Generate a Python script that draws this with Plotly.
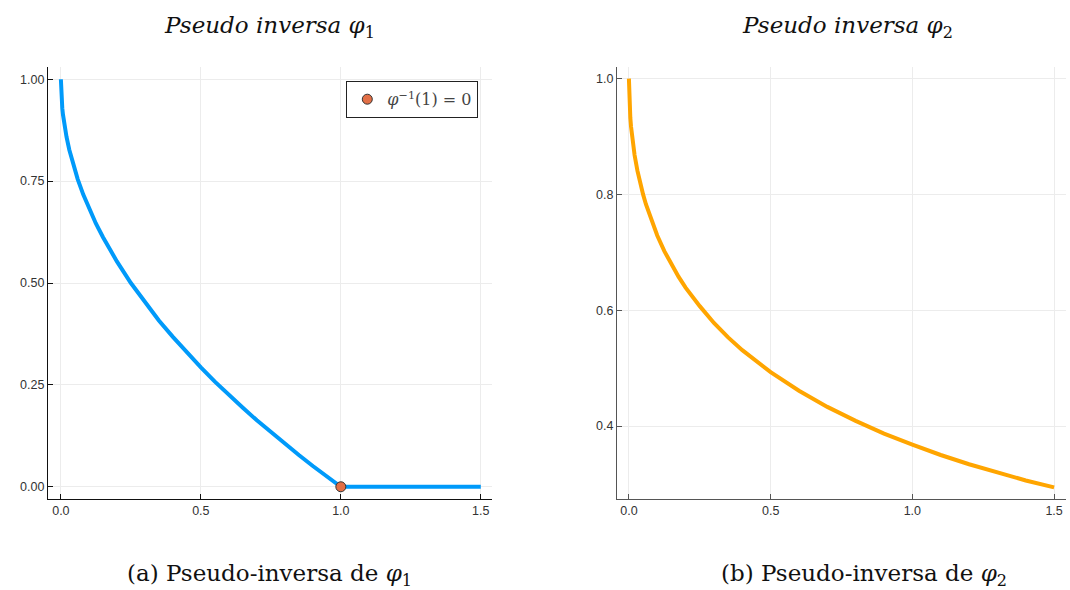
import plotly.graph_objects as go

# Pseudo-inverse of phi_1 (blue) sampled on [0, 1.5]
t1 = [0.0, 0.001, 0.002, 0.003, 0.005, 0.0075, 0.01, 0.015, 0.02, 0.03, 0.04, 0.05,
      0.06, 0.08, 0.1, 0.125, 0.15, 0.175, 0.2, 0.25, 0.3, 0.35, 0.4, 0.45, 0.5,
      0.55, 0.6, 0.65, 0.7, 0.75, 0.8, 0.85, 0.9, 0.95, 1.0, 1.1, 1.2, 1.3, 1.4, 1.5]
y1 = [1.0, 0.968, 0.955, 0.945, 0.929, 0.913, 0.90, 0.877, 0.859, 0.827, 0.80, 0.776,
      0.755, 0.717, 0.684, 0.646, 0.613, 0.582, 0.553, 0.50, 0.452, 0.408, 0.368, 0.329, 0.293,
      0.258, 0.225, 0.194, 0.163, 0.134, 0.106, 0.078, 0.051, 0.025, 0.0, 0.0, 0.0, 0.0, 0.0, 0.0]

# Pseudo-inverse of phi_2 (orange) sampled on [0, 1.5]
t2 = [0.0, 0.001, 0.002, 0.003, 0.005, 0.0075, 0.01, 0.015, 0.02, 0.03, 0.04, 0.05,
      0.06, 0.08, 0.1, 0.125, 0.15, 0.175, 0.2, 0.25, 0.3, 0.35, 0.4, 0.45, 0.5,
      0.6, 0.7, 0.8, 0.9, 1.0, 1.1, 1.2, 1.3, 1.4, 1.5]
y2 = [1.0, 0.969, 0.956, 0.947, 0.932, 0.917, 0.905, 0.885, 0.868, 0.841, 0.819, 0.800,
      0.783, 0.754, 0.729, 0.702, 0.679, 0.658, 0.639, 0.607, 0.578, 0.553, 0.531, 0.512, 0.493,
      0.461, 0.433, 0.409, 0.387, 0.368, 0.350, 0.334, 0.320, 0.306, 0.294]

# highlighted point phi^{-1}(1) = 0
pt_x = [1.0]
pt_y = [0.0]

x_ticks = [0.0, 0.5, 1.0, 1.5]
y1_ticks = [0.0, 0.25, 0.5, 0.75, 1.0]
y2_ticks = [0.4, 0.6, 0.8, 1.0]

W, H = 1070, 590
BLUE = "#009AFA"
ORANGE = "#FFA500"
MARKER = "#E26F46"
SERIF = "DejaVu Serif, Liberation Serif, serif"
SANS = "Liberation Sans, Arial, sans-serif"

fig = go.Figure()

fig.add_trace(go.Scatter(x=t1, y=y1, mode="lines", xaxis="x", yaxis="y",
                         line=dict(color=BLUE, width=4), showlegend=False))
fig.add_trace(go.Scatter(x=pt_x, y=pt_y, mode="markers", xaxis="x", yaxis="y",
                         marker=dict(color=MARKER, size=10, line=dict(color="#333333", width=1)),
                         name="<i>φ</i><sup>−1</sup>(1) = 0", showlegend=True))
fig.add_trace(go.Scatter(x=t2, y=y2, mode="lines", xaxis="x2", yaxis="y2",
                         line=dict(color=ORANGE, width=4), showlegend=False))


def axis_style(line_color):
    return dict(
        showgrid=True, gridcolor="#ececec", gridwidth=1,
        zeroline=False, showline=True, linecolor=line_color, linewidth=1.3,
        ticks="inside", ticklen=5, tickcolor=line_color,
        tickfont=dict(family=SANS, size=12.5, color="#333333"),
        mirror=False, fixedrange=True,
    )


fig.update_layout(
    width=W, height=H,
    margin=dict(l=0, r=0, t=0, b=0),
    paper_bgcolor="white", plot_bgcolor="white",
    xaxis=dict(domain=[48 / W, 492 / W], range=[-0.046, 1.54], anchor="y",
               tickvals=x_ticks, tickformat=".1f", **axis_style("#111111")),
    yaxis=dict(domain=[1 - 499 / H, 1 - 67 / H], range=[-0.03, 1.03], anchor="x",
               tickvals=y1_ticks, tickformat=".2f", **axis_style("#111111")),
    xaxis2=dict(domain=[617 / W, 1066 / W], range=[-0.042, 1.542], anchor="y2",
                tickvals=x_ticks, tickformat=".1f", **axis_style("#555555")),
    yaxis2=dict(domain=[1 - 499 / H, 1 - 67 / H], range=[0.274, 1.02], anchor="x2",
                tickvals=y2_ticks, tickformat=".1f", **axis_style("#555555")),
    legend=dict(x=478 / W, y=1 - 81 / H, xanchor="right", yanchor="top",
                bordercolor="#222222", borderwidth=1.3, bgcolor="white",
                font=dict(family=SERIF, size=16, color="#444444")),
)

# panel titles
title_font = dict(family=SERIF, size=23, color="#111111")
fig.add_annotation(x=270 / W, y=1 - 27 / H, xref="paper", yref="paper",
                   xanchor="center", yanchor="middle",
                   text="<i>Pseudo inversa φ</i><sub>1</sub>", showarrow=False,
                   font=title_font)
fig.add_annotation(x=847 / W, y=1 - 27 / H, xref="paper", yref="paper",
                   xanchor="center", yanchor="middle",
                   text="<i>Pseudo inversa φ</i><sub>2</sub>", showarrow=False,
                   font=title_font)

# captions under each panel
cap_font = dict(family=SERIF, size=23, color="#111111")
fig.add_annotation(x=270 / W, y=1 - 575 / H, xref="paper", yref="paper",
                   xanchor="center", yanchor="middle",
                   text="(a) Pseudo-inversa de <i>φ</i><sub>1</sub>", showarrow=False,
                   font=cap_font)
fig.add_annotation(x=864 / W, y=1 - 575 / H, xref="paper", yref="paper",
                   xanchor="center", yanchor="middle",
                   text="(b) Pseudo-inversa de <i>φ</i><sub>2</sub>", showarrow=False,
                   font=cap_font)

fig.write_html("out.html")
